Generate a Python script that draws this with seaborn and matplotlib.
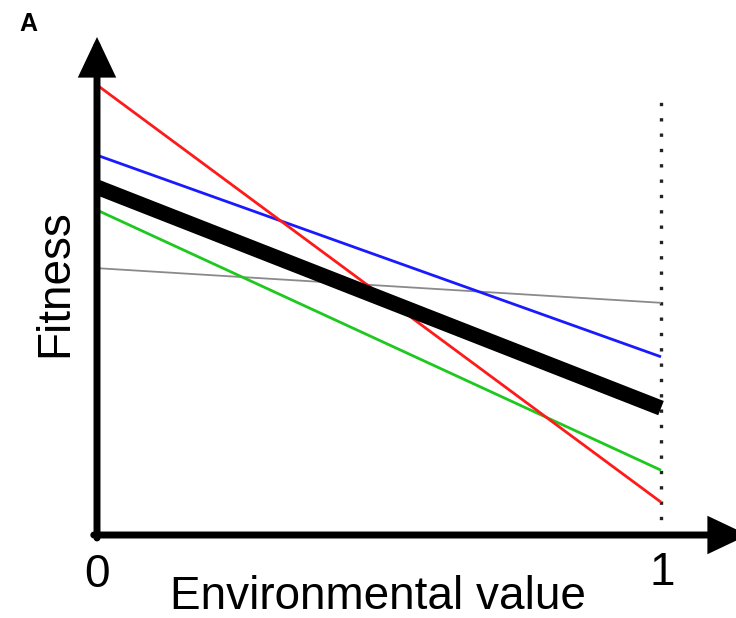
import matplotlib
matplotlib.use("Agg")
import matplotlib.pyplot as plt
import seaborn as sns
import pandas as pd

# ---- data ----
env_values = [0.0, 1.0]
series_names = ["red", "blue", "mean", "green", "gray"]
red_fitness = [1.000, 0.073]
blue_fitness = [0.844, 0.396]
mean_fitness = [0.773, 0.282]
green_fitness = [0.722, 0.144]
gray_fitness = [0.593, 0.516]
tick_labels = ["0", "1"]

colors = {"red": "#ff1a1a", "blue": "#1a1aff", "mean": "#000000",
          "green": "#1ec81e", "gray": "#8a8a8a"}
widths = {"red": 2.0, "blue": 2.0, "mean": 11.0, "green": 2.0, "gray": 1.3}

rows = []
for name, vals in zip(series_names, [red_fitness, blue_fitness, mean_fitness,
                                     green_fitness, gray_fitness]):
    for x, y in zip(env_values, vals):
        rows.append({"env": x, "fitness": y, "series": name})
df = pd.DataFrame(rows)

sns.set_theme(style="white")
plt.rcParams["font.family"] = ["Liberation Sans", "DejaVu Sans"]
plt.rcParams["text.color"] = "black"

W, H = 736, 618
fig = plt.figure(figsize=(W / 100, H / 100), dpi=100)
# axes from px x=97..748, y=37..535 (image coords)
ax = fig.add_axes([97 / W, 1 - 535 / H, (748 - 97) / W, (535 - 37) / H])
ax.set_xlim(0, 651 / 564)
ax.set_ylim(0, 498 / 450)

for name in ["gray", "green", "blue", "mean", "red"]:
    sub = df[df["series"] == name]
    sns.lineplot(data=sub, x="env", y="fitness", ax=ax, color=colors[name],
                 lw=widths[name], solid_capstyle="butt", legend=False,
                 zorder=3 if name != "mean" else 4)

# dotted vertical line at env=1
ax.plot([1.0, 1.0], [0, 0.962], color="#222222", lw=2.4,
        linestyle=(0, (1, 3.6)), zorder=2)

for s in ax.spines.values():
    s.set_visible(False)
ax.set_xticks([])
ax.set_yticks([])
ax.set_xlabel("")
ax.set_ylabel("")

# axis arrows
arrow_kw = dict(arrowstyle="-|>,head_length=0.95,head_width=0.45", lw=5,
                color="black", mutation_scale=22, shrinkA=0, shrinkB=0,
                joinstyle="miter")
ax.annotate("", xy=(1.0, 0), xytext=(-0.005, 0), xycoords="axes fraction",
            textcoords="axes fraction", arrowprops=arrow_kw, annotation_clip=False)
ax.annotate("", xy=(0, 1.0), xytext=(0, -0.006), xycoords="axes fraction",
            textcoords="axes fraction", arrowprops=arrow_kw, annotation_clip=False)

# tick labels
fig.text(97 / W, 1 - 575 / H, tick_labels[0], ha="center", va="center",
         fontsize=33, color="black")
fig.text(662 / W, 1 - 573 / H, tick_labels[1], ha="center", va="center",
         fontsize=33, color="black")

fig.text(378 / W, 1 - 597 / H, "Environmental value", ha="center",
         va="center", fontsize=33, color="black")
fig.text(55 / W, 1 - 283 / H, "Fitness", ha="center", va="center",
         fontsize=33, rotation=90, color="black")
fig.text(28 / W, 1 - 24 / H, "A", ha="center", va="center", fontsize=18,
         fontweight="bold", color="black")

fig.savefig("out.png", dpi=100)
